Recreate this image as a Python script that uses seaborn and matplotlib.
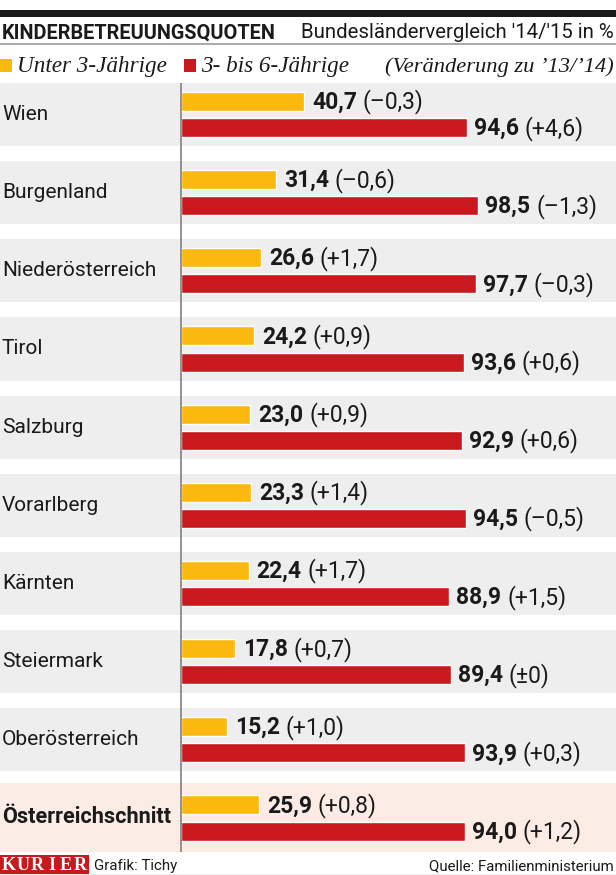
import matplotlib
matplotlib.use("Agg")
import matplotlib.pyplot as plt
import matplotlib.transforms as mtransforms
from matplotlib.patches import Rectangle
from matplotlib.lines import Line2D
import seaborn as sns
import pandas as pd

# ---------------- data ----------------
states = ["Wien", "Burgenland", "Niederösterreich", "Tirol", "Salzburg",
          "Vorarlberg", "Kärnten", "Steiermark", "Oberösterreich",
          "Österreichschnitt"]
under3 = [40.7, 31.4, 26.6, 24.2, 23.0, 23.3, 22.4, 17.8, 15.2, 25.9]
under3_change = ["–0,3", "–0,6", "+1,7", "+0,9", "+0,9", "+1,4", "+1,7",
                 "+0,7", "+1,0", "+0,8"]
age3to6 = [94.6, 98.5, 97.7, 93.6, 92.9, 94.5, 88.9, 89.4, 93.9, 94.0]
age3to6_change = ["+4,6", "–1,3", "–0,3", "+0,6", "+0,6", "–0,5", "+1,5",
                  "±0", "+0,3", "+1,2"]
groups = ["Unter 3-Jährige", "3- bis 6-Jährige"]

title_left = "KINDERBETREUUNGSQUOTEN"
title_right = "Bundesländervergleich '14/'15 in %"
legend_note = "(Veränderung zu ’13/’14)"
credit = "Grafik: Tichy"
source = "Quelle: Familienministerium"
brand = "KURIER"

# ---------------- style ----------------
YELLOW = "#FBB90F"
RED = "#C9191F"
BAND = "#EFEEEE"
BAND_HL = "#FCECE6"
SANS = ["Roboto", "DejaVu Sans"]
SERIF = ["Liberation Serif", "DejaVu Serif"]

sns.set_style("white")
plt.rcParams["font.family"] = SANS

W, H, DPI = 616, 875, 100
fig = plt.figure(figsize=(W / DPI, H / DPI), dpi=DPI)

def fx(px):
    return px / W

def fy(py):
    return 1 - py / H

# main axes spans full width; zero line at x=181 px
ax_top, ax_bot = 83, 852
ax = fig.add_axes([0, fy(ax_bot), 1, (ax_bot - ax_top) / H])
scale = 3.02  # px per percentage point
x0 = 181
xmin, xmax = -x0 / scale, (W - x0) / scale

df = pd.DataFrame({
    "state": states * 2,
    "group": [groups[0]] * len(states) + [groups[1]] * len(states),
    "value": under3 + age3to6,
})

n = len(states)
pitch = 78.17
ymin = -(114.5 - ax_top) / pitch
ymax = (n - 1) + (ax_bot - 818) / pitch

# background bands
for i in range(n - 1):
    ax.axhspan(i - 0.403, i + 0.403, color=BAND, zorder=0, lw=0)
ax.axhspan(n - 1 - 0.447, ymax, color=BAND_HL, zorder=0, lw=0)

sns.barplot(data=df, y="state", x="value", hue="group", orient="h",
            palette=[YELLOW, RED], width=0.672, gap=0.277, dodge=True,
            saturation=1, legend=False, ax=ax, zorder=2)

ax.set_xlim(xmin, xmax)
ax.set_ylim(ymax, ymin)
ax.axvline(0, color="#8a8a8a", lw=1.3, zorder=3)
ax.set_axis_off()

# row labels
lab_tr = mtransforms.blended_transform_factory(fig.transFigure, ax.transData)
for i, s in enumerate(states):
    last = i == n - 1
    ax.text(fx(2), i + 0.07, s, transform=lab_tr, va="baseline", ha="left",
            fontsize=15.6 if last else 15, color="#1a1a1a",
            fontweight="bold" if last else "normal")

# value labels: bold value + regular change
fig.canvas.draw()
renderer = fig.canvas.get_renderer()
off = 0.168
for i in range(n):
    for val, chg, dy, gap_px in ((under3[i], under3_change[i], -off, 8),
                                 (age3to6[i], age3to6_change[i], off, 7)):
        xv = val + gap_px / scale
        yv = i + dy + 0.095
        t1 = ax.text(xv, yv, f"{val:.1f}".replace(".", ","), va="baseline",
                     ha="left", fontsize=16.5, fontweight="bold",
                     color="#1a1a1a")
        w = t1.get_window_extent(renderer).width
        ax.annotate(f"({chg})", xy=(xv, yv), xycoords="data",
                    xytext=(w * 72 / DPI + 4, 0), textcoords="offset points",
                    va="baseline", ha="left", fontsize=16.5, color="#1a1a1a")

# ---------------- header ----------------
fig.patches.append(Rectangle((0, fy(17)), 1, 7 / H, transform=fig.transFigure,
                             color="#1a1a1a", lw=0))
fig.text(fx(2), fy(38.5), title_left, ha="left", va="baseline",
         fontsize=14.3, fontweight="bold", color="#1a1a1a")
fig.text(fx(614), fy(38.5), title_right, ha="right", va="baseline",
         fontsize=14.7, color="#1a1a1a")
fig.lines.append(Line2D([0, 1], [fy(44), fy(44)], transform=fig.transFigure,
                        color="#9a9a9a", lw=1.2))

# legend row
fig.patches.append(Rectangle((fx(0), fy(72)), 12 / W, 13 / H,
                             transform=fig.transFigure, color=YELLOW, lw=0))
fig.text(fx(17), fy(72), groups[0], ha="left", va="baseline",
         fontsize=16.7, style="italic", family=SERIF, color="#1a1a1a")
fig.patches.append(Rectangle((fx(184), fy(72)), 12 / W, 13 / H,
                             transform=fig.transFigure, color=RED, lw=0))
fig.text(fx(201), fy(72), groups[1], ha="left", va="baseline",
         fontsize=16.7, style="italic", family=SERIF, color="#1a1a1a")
fig.text(fx(614), fy(72), legend_note, ha="right", va="baseline",
         fontsize=16.2, style="italic", family=SERIF, color="#1a1a1a")

# ---------------- footer ----------------
fig.patches.append(Rectangle((0, fy(874)), 89 / W, 19 / H,
                             transform=fig.transFigure, color=RED, lw=0))
for k, ch in enumerate(brand):
    fig.text(fx(9 + k * 14.2), fy(870.5), ch, ha="center", va="baseline",
             fontsize=13, fontweight="bold", family=SERIF, color="white")
fig.text(fx(94), fy(870), credit, ha="left", va="baseline", fontsize=10.8,
         color="#1a1a1a")
fig.text(fx(614), fy(870), source, ha="right", va="baseline", fontsize=10.8,
         color="#1a1a1a")
fig.lines.append(Line2D([0, 1], [fy(874.5), fy(874.5)],
                        transform=fig.transFigure, color="#9a9a9a", lw=1))

fig.savefig("out.png", dpi=DPI)
